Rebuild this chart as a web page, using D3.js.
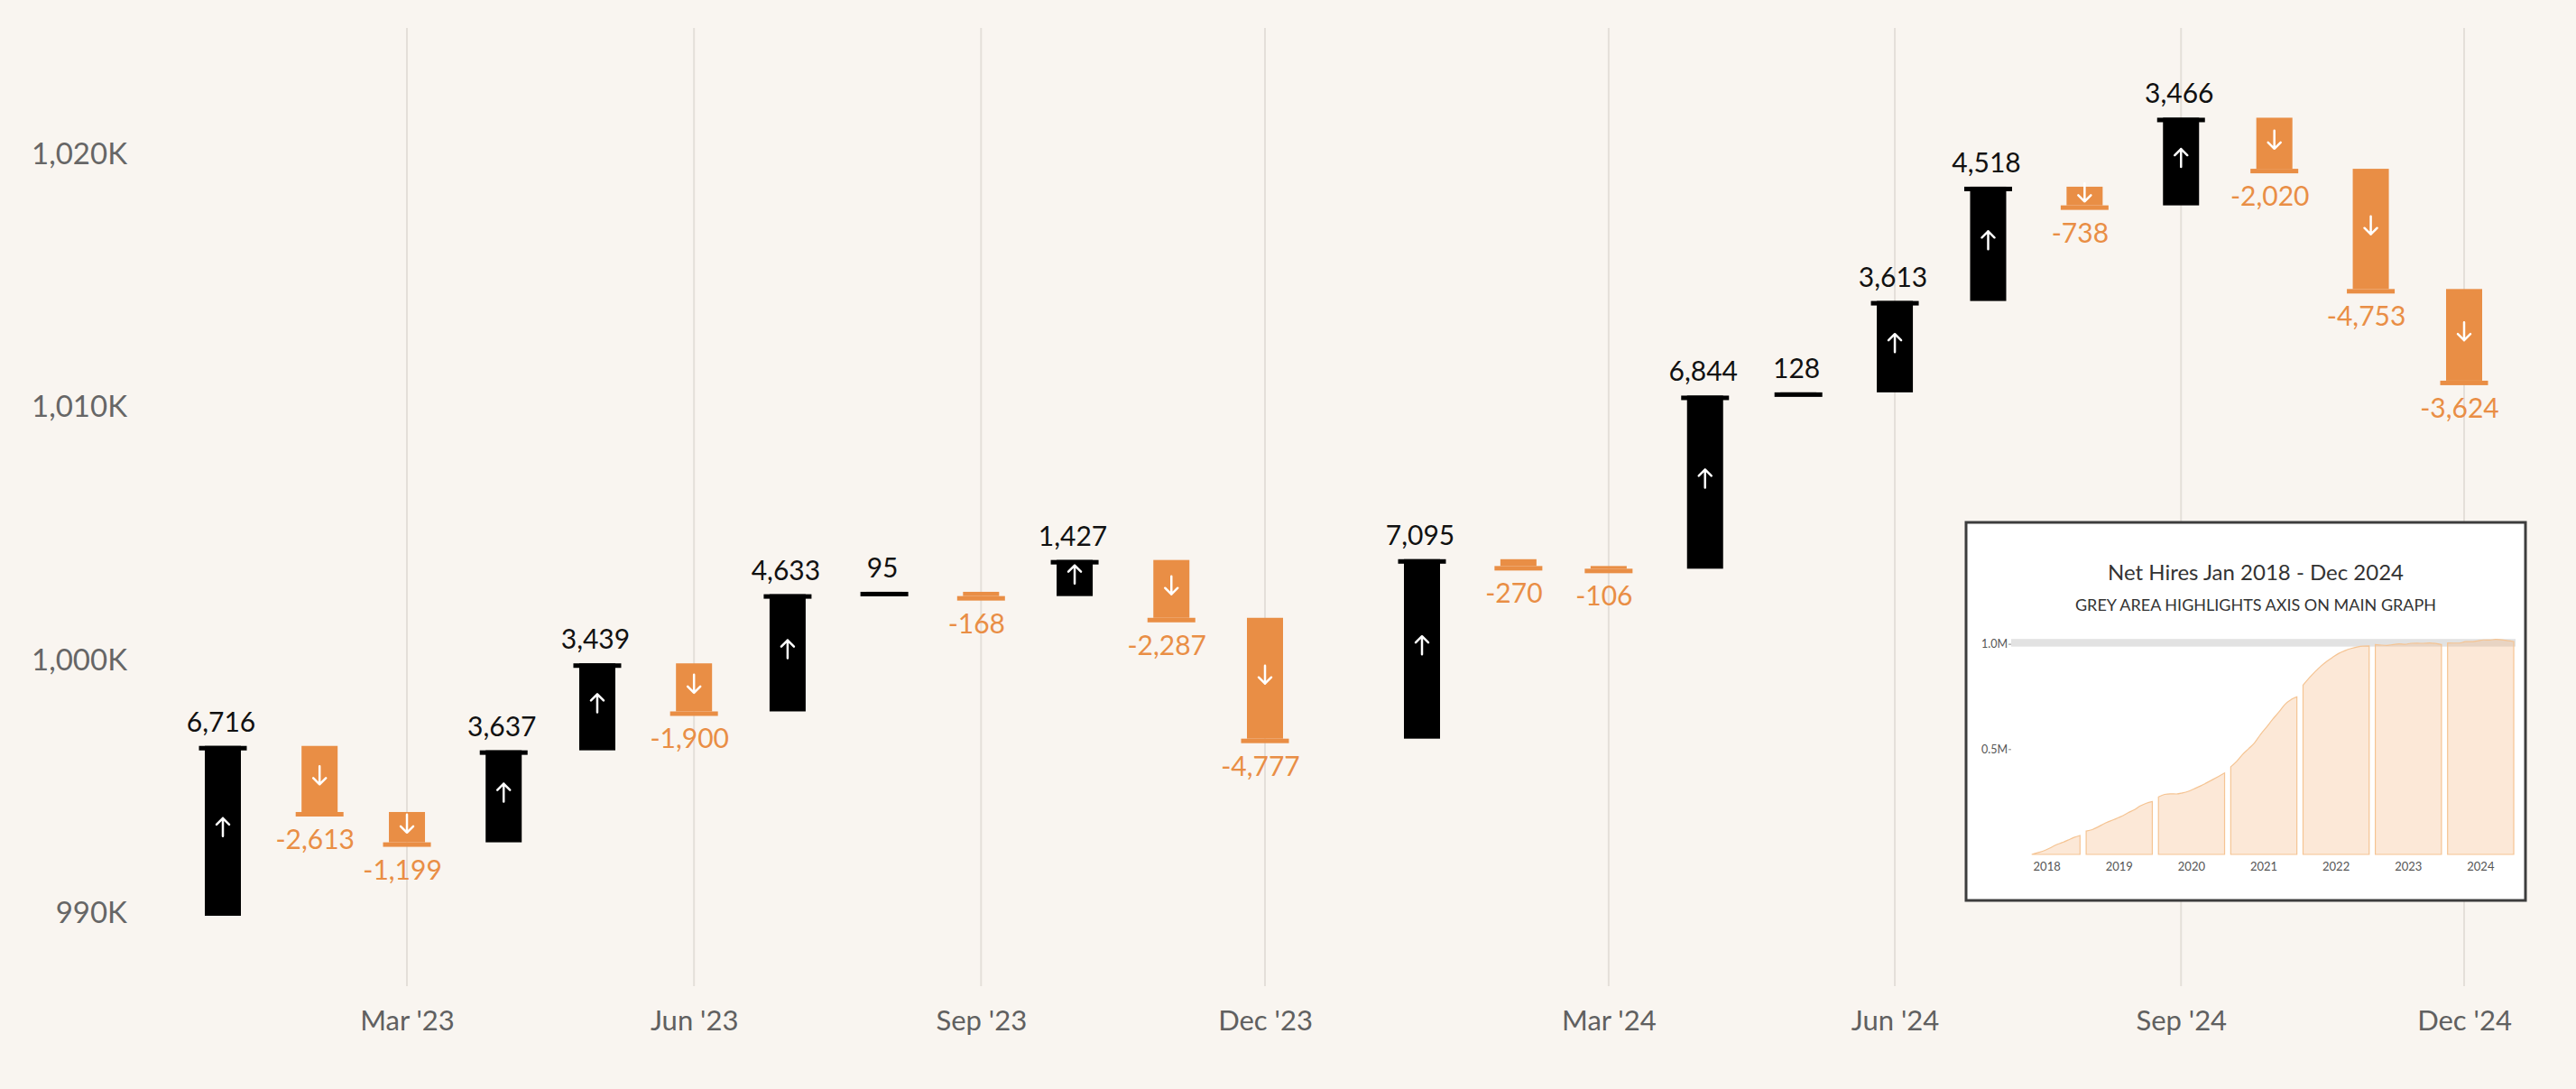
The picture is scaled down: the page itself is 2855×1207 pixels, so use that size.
<!DOCTYPE html>
<html>
<head>
<meta charset="utf-8">
<script src="https://cdn.jsdelivr.net/npm/d3@7"></script>
<style>
  html, body { margin: 0; padding: 0; background: #f9f5f0; }
  svg { display: block; font-family: Lato, "Open Sans", sans-serif; }
</style>
</head>
<body>
<div id="chart"></div>
<script>
// monthly net hires, Jan 2023 - Dec 2024
var months = ["2023-01","2023-02","2023-03","2023-04","2023-05","2023-06",
              "2023-07","2023-08","2023-09","2023-10","2023-11","2023-12",
              "2024-01","2024-02","2024-03","2024-04","2024-05","2024-06",
              "2024-07","2024-08","2024-09","2024-10","2024-11","2024-12"];
var changes = [6716, -2613, -1199, 3637, 3439, -1900, 4633, 95, -168, 1427, -2287, -4777,
               7095, -270, -106, 6844, 128, 3613, 4518, -738, 3466, -2020, -4753, -3624];
var startValue = 989893;   // headcount at end of Dec 2022
var yTicks = [990000, 1000000, 1010000, 1020000];
var xTicks = ["2023-03","2023-06","2023-09","2023-12","2024-03","2024-06","2024-09","2024-12"];

// inset: cumulative net hires by month
var insetYears = [2018, 2019, 2020, 2021, 2022, 2023, 2024];
var insetFirstMonth2018 = 3;   // series starts in April 2018
var hires2018 = [0, 8000, 17000, 30000, 45000, 56000, 68000, 81000, 90000];
var hires2019 = [111000, 118000, 130000, 146000, 158000, 170000, 182000, 198000, 212000, 230000, 243000, 251000];
var hires2020 = [273000, 285000, 288000, 287000, 292000, 300000, 312000, 325000, 340000, 355000, 371000, 387000];
var hires2021 = [416000, 443000, 474000, 502000, 530000, 570000, 605000, 642000, 676000, 712000, 735000, 748000];
var hires2022 = [804000, 838000, 866000, 894000, 917000, 937000, 955000, 968000, 978000, 985000, 989000, 989893];
var insetBand = [987000, 1023000];
var insetTicks = [500000, 1000000];

var width = 2855, height = 1207;
var black = "#000000", orange = "#e98e45";
var parseMonth = d3.timeParse("%Y-%m");

// build waterfall rows
var running = startValue;
var rows = months.map(function(m, i){
  var s = running;
  running += changes[i];
  return { date: parseMonth(m), value: changes[i], start: s, end: running };
});

var svg = d3.select("#chart").append("svg")
    .attr("width", width)
    .attr("height", height);

svg.append("rect").attr("width", width).attr("height", height).attr("fill", "#f9f5f0");

// x: time scale with a small break between the two years
var x = d3.scaleTime()
    .domain([parseMonth("2023-01"), parseMonth("2023-12"), parseMonth("2024-01"), parseMonth("2024-12")])
    .range([247, 1402, 1576, 2731]);

var y = d3.scaleLinear()
    .domain([990000, 1020000])
    .range([1012, 171]);

// vertical grid lines
svg.append("g")
  .selectAll("line")
  .data(xTicks.map(parseMonth))
 .enter().append("line")
  .attr("x1", d => x(d)).attr("x2", d => x(d))
  .attr("y1", 31).attr("y2", 1093)
  .attr("stroke", "#e4dfd9")
  .attr("stroke-width", 2);

// x axis labels
var xAxis = svg.append("g")
    .attr("transform", "translate(0,1120)")
    .call(d3.axisBottom(x)
      .tickValues(xTicks.map(parseMonth))
      .tickFormat(d3.timeFormat("%b '%y"))
      .tickSize(0));
xAxis.select(".domain").remove();
xAxis.selectAll("text")
    .attr("dy", "0.71em")
    .attr("y", 0)
    .style("font-size", "31px")
    .style("font-family", "Lato, sans-serif")
    .attr("fill", "#606060");

// y axis labels
var yAxis = svg.append("g")
    .attr("transform", "translate(141,0)")
    .call(d3.axisLeft(y)
      .tickValues(yTicks)
      .tickFormat(d => d3.format(",")(d / 1000) + "K")
      .tickSize(0));
yAxis.select(".domain").remove();
yAxis.selectAll("text")
    .attr("x", 0)
    .style("font-size", "33px")
    .style("font-family", "Lato, sans-serif")
    .attr("fill", "#666666");

// bars
var bars = svg.append("g").selectAll("g.bar")
    .data(rows)
   .enter().append("g")
    .attr("class", "bar");

bars.append("rect")
    .attr("x", d => x(d.date) - 20)
    .attr("width", 40)
    .attr("y", d => y(Math.max(d.start, d.end)))
    .attr("height", d => Math.abs(y(d.start) - y(d.end)))
    .attr("fill", d => d.value >= 0 ? black : orange);

// cap at the end value
bars.append("rect")
    .attr("x", d => x(d.date) - 26.5)
    .attr("width", 53)
    .attr("y", d => y(d.end))
    .attr("height", 5)
    .attr("fill", d => d.value >= 0 ? black : orange);

// arrows inside bars tall enough
bars.filter(d => Math.abs(y(d.start) - y(d.end)) > 15)
  .append("path")
    .attr("transform", d => "translate(" + x(d.date) + "," + ((y(d.start) + y(d.end)) / 2 - 4) + ")")
    .attr("d", d => d.value >= 0
        ? "M0,10V-10M-7,-3L0,-10L7,-3"
        : "M0,-10V10M-7,3L0,10L7,3")
    .attr("fill", "none")
    .attr("stroke", "#ffffff")
    .attr("stroke-width", 2.5)
    .attr("stroke-linecap", "round")
    .attr("stroke-linejoin", "round");

// value labels
bars.append("text")
    .attr("x", d => x(d.date) + (d.value >= 0 ? -2 : -5))
    .attr("y", d => d.value >= 0 ? y(d.end) - 16 : y(d.end) + 41)
    .attr("text-anchor", "middle")
    .style("font-size", "30px")
    .attr("fill", d => d.value >= 0 ? "#111111" : orange)
    .text(d => d3.format(",")(d.value).replace("−", "-"));

// ---- inset: net hires 2018 - 2024 ----
var inset = svg.append("g").attr("id", "inset");

inset.append("rect")
    .attr("x", 2179).attr("y", 579)
    .attr("width", 620).attr("height", 419)
    .attr("fill", "#ffffff")
    .attr("stroke", "#3d3d3d")
    .attr("stroke-width", 3);

inset.append("text")
    .attr("x", 2500).attr("y", 643)
    .attr("text-anchor", "middle")
    .style("font-size", "24px")
    .attr("fill", "#333333")
    .text("Net Hires Jan 2018 - Dec 2024");

inset.append("text")
    .attr("x", 2500).attr("y", 677)
    .attr("text-anchor", "middle")
    .style("font-size", "18px")
    .attr("fill", "#333333")
    .text("GREY AREA HIGHLIGHTS AXIS ON MAIN GRAPH");

var yi = d3.scaleLinear().domain([0, 1000000]).range([947, 713.6]);
var xb = d3.scaleBand().domain(insetYears).range([2232, 2786]).paddingInner(0.085);

inset.append("rect")
    .attr("x", 2229).attr("width", 2788 - 2229)
    .attr("y", yi(insetBand[1]))
    .attr("height", yi(insetBand[0]) - yi(insetBand[1]))
    .attr("fill", "#e2e2e2");

var yearSeries = {
  2018: hires2018.map((v, i) => ({ m: insetFirstMonth2018 + i, v: v })),
  2019: hires2019.map((v, i) => ({ m: i, v: v })),
  2020: hires2020.map((v, i) => ({ m: i, v: v })),
  2021: hires2021.map((v, i) => ({ m: i, v: v })),
  2022: hires2022.map((v, i) => ({ m: i, v: v })),
  2023: rows.slice(0, 12).map((r, i) => ({ m: i, v: r.end })),
  2024: rows.slice(12).map((r, i) => ({ m: i, v: r.end }))
};

insetYears.forEach(function(yr){
  var xm = d3.scaleTime()
      .domain([new Date(yr, 0, 1), new Date(yr, 11, 1)])
      .range([xb(yr), xb(yr) + xb.bandwidth()]);
  var area = d3.area()
      .x(d => xm(new Date(yr, d.m, 1)))
      .y0(yi(0))
      .y1(d => yi(d.v))
      .curve(d3.curveMonotoneX);
  inset.append("path")
      .datum(yearSeries[yr])
      .attr("d", area)
      .attr("fill", "#f4b47c")
      .attr("fill-opacity", 0.3)
      .attr("stroke", "#f5c493")
      .attr("stroke-width", 1.2);
});

var yiAxis = inset.append("g")
    .attr("transform", "translate(2229,0)")
    .call(d3.axisLeft(yi)
      .tickValues(insetTicks)
      .tickFormat(d => (d / 1e6).toFixed(1) + "M")
      .tickSize(3)
      .tickPadding(1));
yiAxis.select(".domain").remove();
yiAxis.selectAll("line").attr("stroke", "#888");
yiAxis.selectAll("text")
    .style("font-size", "12.5px")
    .style("font-family", "Lato, sans-serif")
    .attr("fill", "#555555");

var xiAxis = inset.append("g")
    .attr("transform", "translate(0,952)")
    .call(d3.axisBottom(xb).tickSize(0).tickPadding(4));
xiAxis.select(".domain").remove();
xiAxis.selectAll("text")
    .style("font-size", "13px")
    .style("font-family", "Lato, sans-serif")
    .attr("fill", "#555555");
</script>
</body>
</html>
